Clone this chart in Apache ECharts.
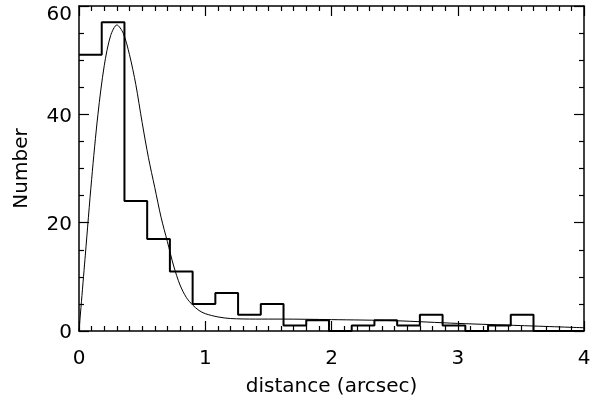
<!DOCTYPE html>
<html><head><meta charset="utf-8">
<script src="https://cdn.jsdelivr.net/npm/echarts@6/dist/echarts.min.js"></script>
<style>html,body{margin:0;padding:0;background:#fff}#c{width:601px;height:399px}</style>
</head><body><div id="c"></div>
<script>
// Histogram bins (left edges = index * binWidth)
const binWidth = 0.18;
const histCounts = [51, 57, 24, 17, 11, 5, 7, 3, 5, 1, 2, 0, 1, 2, 1, 3, 1, 0, 1, 3];
const histEnd = 4;
// Fitted curve
const curveX = [0, 0.05, 0.1, 0.15, 0.2, 0.25, 0.3, 0.35, 0.4, 0.45, 0.5, 0.55, 0.6, 0.65, 0.7, 0.75, 0.8, 0.85, 0.9, 0.95, 1.0, 1.1, 1.2, 1.4, 1.6, 2.0, 2.5, 3.0, 3.5, 4.0];
const curveY = [0, 14, 28, 40, 49, 54.5, 56.5, 55, 51, 45.5, 38.5, 32, 26.5, 21, 16.5, 12, 8.5, 6.2, 4.8, 3.8, 3.2, 2.6, 2.3, 2.2, 2.2, 2.1, 1.9, 1.4, 1.0, 0.6];
const xTicks = [0, 1, 2, 3, 4];
const yTicks = [0, 20, 40, 60];
const xTitle = 'distance (arcsec)';
const yTitle = 'Number';

const histData = histCounts.map((v, i) => [+(i * binWidth).toFixed(2), v]);
histData.push([+(histCounts.length * binWidth).toFixed(2), 0]);
histData.push([histEnd, 0]);
const curveData = curveX.map((x, i) => [x, curveY[i]]);

const FONT = 'DejaVu Sans';
const FS = 20;
const black = '#000';
const yMax = yTicks[yTicks.length - 1];
function xAx(pos, show) {
  return {
    type: 'value', position: pos, min: xTicks[0], max: xTicks[xTicks.length - 1], interval: 1,
    name: show ? xTitle : '', nameLocation: 'middle', nameGap: 46,
    nameTextStyle: {color: black, fontFamily: FONT, fontSize: FS},
    axisLine: {show: true, onZero: false, lineStyle: {color: black, width: 1.5}},
    axisTick: {show: true, inside: true, length: 10, lineStyle: {color: black, width: 1.2}},
    minorTick: {show: true, splitNumber: 10, length: 5, lineStyle: {color: black, width: 1.2}},
    splitLine: {show: false},
    axisLabel: {show: show, color: black, fontFamily: FONT, fontSize: FS, margin: 18}
  };
}
function yAx(pos, show) {
  return {
    type: 'value', position: pos, min: yTicks[0], max: yMax, interval: 20,
    name: show ? yTitle : '', nameLocation: 'middle', nameGap: 47, nameRotate: 90,
    nameTextStyle: {color: black, fontFamily: FONT, fontSize: FS},
    axisLine: {show: true, onZero: false, lineStyle: {color: black, width: 1.5}},
    axisTick: {show: true, inside: true, length: 10, lineStyle: {color: black, width: 1.2}},
    minorTick: {show: true, splitNumber: 4, length: 5, lineStyle: {color: black, width: 1.2}},
    splitLine: {show: false},
    axisLabel: {show: show, color: black, fontFamily: FONT, fontSize: FS, margin: 7,
      formatter: v => v === yMax ? '{top|' + v + '}' : '{n|' + v + '}',
      rich: {
        top: {fontFamily: FONT, fontSize: FS, color: black, padding: [18, 0, 0, 0]},
        n: {fontFamily: FONT, fontSize: FS, color: black, padding: [4, 0, 0, 0]}
      }}
  };
}
const chart = echarts.init(document.getElementById('c'), null, {renderer: 'canvas'});
chart.setOption({
  animation: false,
  backgroundColor: '#fff',
  grid: {left: 79, right: 17, top: 6, bottom: 68, containLabel: false, outerBoundsMode: 'none'},
  xAxis: [xAx('bottom', true), xAx('top', false)],
  yAxis: [yAx('left', true), yAx('right', false)],
  series: [
    {type: 'line', step: 'end', data: histData, showSymbol: false, xAxisIndex: 0, yAxisIndex: 0,
     lineStyle: {color: black, width: 2}, z: 3},
    {type: 'line', data: curveData, showSymbol: false, smooth: 0.3, xAxisIndex: 0, yAxisIndex: 0,
     lineStyle: {color: black, width: 1}, z: 2}
  ]
});
</script></body></html>
